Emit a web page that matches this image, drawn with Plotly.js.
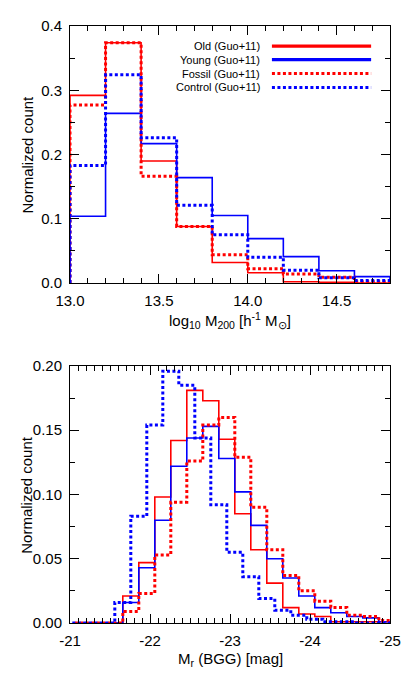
<!DOCTYPE html>
<html><head><meta charset="utf-8">
<script src="https://cdn.plot.ly/plotly-3.0.1.min.js"></script>
<style>html,body{margin:0;padding:0;background:#fff;} #chart{width:407px;height:678px;}</style>
</head><body><div id="chart"></div>
<script>
// ---- Top panel: halo mass histograms ----
const massEdges   = [13.0, 13.2, 13.4, 13.6, 13.8, 14.0, 14.2, 14.4, 14.6, 14.8];
const massOld     = [0.292, 0.374, 0.190, 0.088, 0.032, 0.016, 0.002, 0.001, 0.000];
const massYoung   = [0.104, 0.264, 0.217, 0.164, 0.105, 0.069, 0.041, 0.019, 0.010];
const massFossil  = [0.277, 0.374, 0.166, 0.088, 0.044, 0.022, 0.014, 0.009, 0.002];
const massControl = [0.183, 0.324, 0.226, 0.121, 0.075, 0.040, 0.020, 0.008, 0.004];
const massTickVals = [13.0, 13.5, 14.0, 14.5];
const massTickText = ['13.0', '13.5', '14.0', '14.5'];
const massYTickVals = [0.0, 0.1, 0.2, 0.3, 0.4];
const massYTickText = ['0.0', '0.1', '0.2', '0.3', '0.4'];

// ---- Bottom panel: BGG magnitude histograms ----
const magEdges = [-21.06, -21.26, -21.46, -21.66, -21.86, -22.06, -22.26, -22.46, -22.66, -22.86, -23.06,
                  -23.26, -23.46, -23.66, -23.86, -24.06, -24.26, -24.46, -24.66, -24.86, -25.06];
const magOld    = [0, 0, 0, 0.021, 0.047, 0.098, 0.142, 0.181, 0.173, 0.143, 0.085, 0.057, 0.031, 0.012, 0.007, 0.005, 0.001, 0.001, 0.001, 0.001];
const magYoung  = [0, 0, 0, 0.016, 0.043, 0.080, 0.122, 0.144, 0.153, 0.128, 0.102, 0.076, 0.050, 0.035, 0.021, 0.012, 0.008, 0.005, 0.004, 0.001];
const magFossil = [0, 0, 0, 0.009, 0.023, 0.053, 0.094, 0.126, 0.154, 0.160, 0.129, 0.090, 0.057, 0.037, 0.025, 0.017, 0.012, 0.006, 0.005, 0.002];
const magControlEdges = [-20.96, -21.16, -21.36, -21.56, -21.76, -21.96, -22.16, -22.36, -22.56, -22.76, -22.96,
                         -23.16, -23.36, -23.56, -23.76, -23.96, -24.16, -24.36, -24.56, -24.76, -24.96, -25.16];
const magControl = [0, 0, 0, 0.016, 0.083, 0.154, 0.196, 0.185, 0.144, 0.092, 0.055, 0.036, 0.019, 0.010, 0.006, 0.003, 0.001, 0.001, 0, 0, 0];
const magTickVals = [-21, -22, -23, -24, -25];
const magTickText = ['-21', '-22', '-23', '-24', '-25'];
const magYTickVals = [0.00, 0.05, 0.10, 0.15, 0.20];
const magYTickText = ['0.00', '0.05', '0.10', '0.15', '0.20'];

const seriesNames = ['Old (Guo+11)', 'Young (Guo+11)', 'Fossil (Guo+11)', 'Control (Guo+11)'];

const RED = '#ff0000', BLUE = '#0000ff';
const styles = [
  {color: RED,  dash: 'solid', width: 1.6},
  {color: BLUE, dash: 'solid', width: 1.6},
  {color: RED,  dash: '3px,2.5px', width: 3},
  {color: BLUE, dash: '3px,2.5px', width: 3}
];
const legendWidths = [3.3, 3.3, 3, 3];

function steps(edges, vals) {
  const x = [edges[0]], y = [0];
  for (let i = 0; i < vals.length; i++) { x.push(edges[i]); y.push(vals[i]); }
  x.push(edges[vals.length]); y.push(vals[vals.length - 1]);
  x.push(edges[vals.length]); y.push(0);
  return {x, y};
}

const traces = [];
const topSets = [[massEdges, massOld], [massEdges, massYoung], [massEdges, massFossil], [massEdges, massControl]];
const botSets = [[magEdges, magOld], [magEdges, magYoung], [magEdges, magFossil], [magControlEdges, magControl]];
topSets.forEach((s, i) => {
  const st = steps(s[0], s[1]);
  traces.push({type: 'scatter', mode: 'lines', x: st.x, y: st.y, xaxis: 'x', yaxis: 'y',
    line: {color: styles[i].color, dash: styles[i].dash, width: styles[i].width, shape: 'hv'},
    name: seriesNames[i], showlegend: false, hoverinfo: 'skip'});
});
botSets.forEach((s, i) => {
  const st = steps(s[0], s[1]);
  traces.push({type: 'scatter', mode: 'lines', x: st.x, y: st.y, xaxis: 'x2', yaxis: 'y2',
    line: {color: styles[i].color, dash: styles[i].dash, width: styles[i].width, shape: 'hv'},
    name: seriesNames[i], showlegend: false, hoverinfo: 'skip'});
});

const FONT = {family: 'Liberation Sans, Arial, Helvetica, sans-serif', size: 15, color: '#000'};

function axisBase(extra) {
  return Object.assign({
    showline: true, linecolor: '#000', linewidth: 1, mirror: 'allticks',
    ticks: 'inside', ticklen: 9, tickwidth: 1, tickcolor: '#000',
    showgrid: false, zeroline: false, tickmode: 'array',
    tickfont: FONT, fixedrange: true
  }, extra);
}

const shapes = [], annotations = [];
const legY = [0.922, 0.869, 0.815, 0.761];
seriesNames.forEach((n, i) => {
  shapes.push({type: 'line', xref: 'x domain', yref: 'y domain', x0: 0.631, x1: 0.941, y0: legY[i], y1: legY[i],
    line: {color: styles[i].color, dash: styles[i].dash, width: legendWidths[i]}});
  annotations.push({xref: 'x domain', yref: 'y domain', x: 0.601, y: legY[i], xanchor: 'right', yanchor: 'middle',
    text: n, showarrow: false, font: {family: FONT.family, size: 11, color: '#000'}});
});
annotations.push({xref: 'paper', yref: 'paper', x: -0.134, y: 0.785, textangle: -90, xanchor: 'center', yanchor: 'middle',
  text: 'Normalized count', showarrow: false, font: FONT});
annotations.push({xref: 'paper', yref: 'paper', x: -0.134, y: 0.215, textangle: -90, xanchor: 'center', yanchor: 'middle',
  text: 'Normalized count', showarrow: false, font: FONT});
annotations.push({xref: 'paper', yref: 'paper', x: 0.5, y: 0.5065, xanchor: 'center', yanchor: 'middle',
  text: 'log<sub>10</sub> M<sub>200</sub> [h<sup>-1</sup> M<sub>⊙</sub>]', showarrow: false, font: FONT});
annotations.push({xref: 'paper', yref: 'paper', x: 0.5, y: -0.061, xanchor: 'center', yanchor: 'middle',
  text: 'M<sub>r</sub> (BGG) [mag]', showarrow: false, font: FONT});

const layout = {
  width: 407, height: 678,
  margin: {l: 70, r: 17, t: 26, b: 55},
  paper_bgcolor: '#fff', plot_bgcolor: '#fff',
  font: FONT, showlegend: false,
  xaxis: axisBase({domain: [0, 1], anchor: 'y', range: [13.0, 14.8], tickvals: massTickVals, ticktext: massTickText,
    minor: {dtick: 0.1, tick0: 13.0, ticks: 'inside', ticklen: 5, tickcolor: '#000'}, ticklabelstandoff: 4}),
  yaxis: axisBase({domain: [0.5695, 1], anchor: 'x', range: [0, 0.4], tickvals: massYTickVals, ticktext: massYTickText,
    minor: {dtick: 0.05, tick0: 0, ticks: 'inside', ticklen: 5, tickcolor: '#000'}, ticklabelstandoff: 4}),
  xaxis2: axisBase({domain: [0, 1], anchor: 'y2', range: [-21, -25], tickvals: magTickVals, ticktext: magTickText,
    minor: {dtick: 0.1, tick0: -21, ticks: 'inside', ticklen: 5, tickcolor: '#000'}, ticklabelstandoff: 4}),
  yaxis2: axisBase({domain: [0, 0.4305], anchor: 'x2', range: [0, 0.2], tickvals: magYTickVals, ticktext: magYTickText,
    minor: {dtick: 0.025, tick0: 0, ticks: 'inside', ticklen: 5, tickcolor: '#000'}, ticklabelstandoff: 4}),
  shapes: shapes,
  annotations: annotations
};

Plotly.newPlot('chart', traces, layout, {staticPlot: true, displayModeBar: false});
</script>
</body></html>
